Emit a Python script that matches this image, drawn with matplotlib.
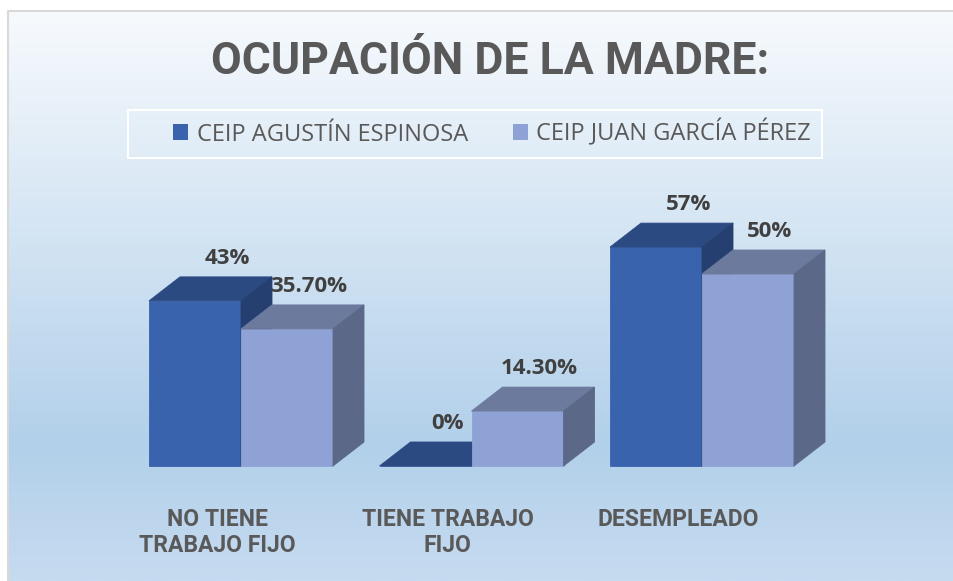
import numpy as np
import matplotlib
matplotlib.use("Agg")
import matplotlib.pyplot as plt
from matplotlib.patches import Polygon, Rectangle, Patch
from matplotlib.colors import LinearSegmentedColormap

# data
categories = ["NO TIENE\nTRABAJO FIJO", "TIENE TRABAJO\nFIJO", "DESEMPLEADO"]
series_names = ["CEIP AGUSTÍN ESPINOSA", "CEIP JUAN GARCÍA PÉREZ"]
agustin = [43, 0, 57]
juan = [35.7, 14.3, 50]
agustin_labels = ["43%", "0%", "57%"]
juan_labels = ["35.70%", "14.30%", "50%"]

# colours: front, top, side
dark = ("#3A63AD", "#2B4A82", "#243F70")
light = ("#8FA2D5", "#6C7A9E", "#5B6888")
title_col = "#595959"
value_col = "#404040"

narrow = ["Roboto", "DejaVu Sans"]
plain = ["Open Sans", "DejaVu Sans"]

W, H = 954, 581
fig = plt.figure(figsize=(W / 100, H / 100), dpi=100)

# background (gradient panel, border, legend box)
bg = fig.add_axes([0, 0, 1, 1])
bg.set_xlim(0, W)
bg.set_ylim(H, 0)
bg.axis("off")
cmap = LinearSegmentedColormap.from_list(
    "bg", [(0, "#f7fafd"), (0.76, "#b2d0ea"), (1, "#c6dbf0")])
bg.imshow(np.linspace(0, 1, 256)[:, None], extent=(8, W, H, 11),
          cmap=cmap, aspect="auto", zorder=0)
bg.plot([8, 8, W], [H, 11, 11], color="#d9d9d9", lw=1.5, zorder=1)
bg.add_patch(Rectangle((128, 110), 694, 48, fill=False, edgecolor="white", lw=1.5, zorder=1))

# plotting axes, scaled so one group = 1 unit and y = percent
ax = fig.add_axes([0, 0, 1, 1])
ax.patch.set_alpha(0)
ax.axis("off")
gx, x0, ppy, base = 230.5, 241, 3.84, 466
ax.set_xlim(-x0 / gx, (W - x0) / gx)
ax.set_ylim(-(H - base) / ppy, base / ppy)

width = 92 / gx
dx = 31 / gx
dy = 24 / ppy


def bar3d(x_left, v, cols, z):
    front, top, side = cols
    ax.bar(x_left, v, width, align="edge", color=front, zorder=z,
           edgecolor=front, linewidth=0.6)
    ax.add_patch(Polygon([(x_left, v), (x_left + width, v),
                          (x_left + width + dx, v + dy), (x_left + dx, v + dy)],
                         closed=True, facecolor=top, edgecolor=top, lw=0.6, zorder=z))
    ax.add_patch(Polygon([(x_left + width, 0), (x_left + width + dx, dy),
                          (x_left + width + dx, v + dy), (x_left + width, v)],
                         closed=True, facecolor=side, edgecolor=side, lw=0.6, zorder=z))


for i in range(len(categories)):
    bar3d(i - width, agustin[i], dark, 2)
    bar3d(i, juan[i], light, 3)
    off = 0.14 if agustin[i] > 0 else 0.095
    ax.text(i - width / 2 + off, agustin[i] + dy + 4.9, agustin_labels[i],
            ha="center", va="center", fontsize=16, fontweight="bold",
            color=value_col, family=plain, zorder=5)
    ax.text(i + width / 2 + 0.095, juan[i] + dy + 4.9, juan_labels[i],
            ha="center", va="center", fontsize=16, fontweight="bold",
            color=value_col, family=plain, zorder=5)
    ax.text(i - 0.104, -11.0, categories[i], ha="center", va="top",
            fontsize=16.5, fontweight="bold", color=title_col, family=narrow,
            linespacing=1.15, zorder=5)

fig.text(490 / W, 1 - 62 / H, "OCUPACIÓN DE LA MADRE:", ha="center", va="center",
         fontsize=32, fontweight="bold", color=title_col, family=narrow)

handles = [Patch(facecolor=dark[0]), Patch(facecolor=light[0])]
ax.legend(handles, series_names, loc="center", bbox_to_anchor=(492 / W, 1 - 133 / H),
          bbox_transform=fig.transFigure, ncol=2, frameon=False,
          handlelength=0.65, handleheight=0.65, handletextpad=0.35, columnspacing=1.9,
          prop={"family": plain, "size": 17}, labelcolor=title_col)

fig.savefig("out.png", dpi=100)
